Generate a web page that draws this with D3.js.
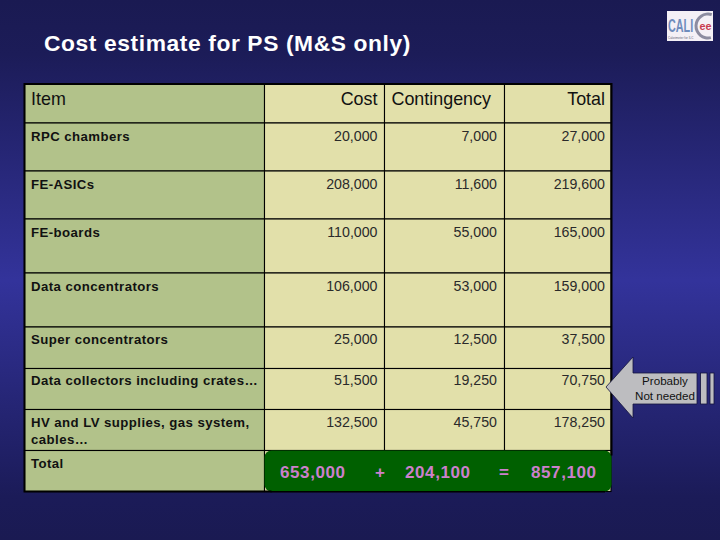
<!DOCTYPE html>
<html>
<head>
<meta charset="utf-8">
<style>
  html, body { margin: 0; padding: 0; background: #1b1b55; }
  svg { display: block; }
  text { font-family: "Liberation Sans", Arial, sans-serif; }
</style>
<script src="https://cdn.jsdelivr.net/npm/d3@7"></script>
</head>
<body>
<div id="slide"></div>
<script>
// table content
var titleText = "Cost estimate for PS (M&S only)";
var headers = ["Item", "Cost", "Contingency", "Total"];
var items = ["RPC chambers", "FE-ASICs", "FE-boards", "Data concentrators",
  "Super concentrators", "Data collectors including crates…",
  "HV and LV supplies, gas system,|cables…"];
var costs = [20000, 208000, 110000, 106000, 25000, 51500, 132500];
var contingency = [7000, 11600, 55000, 53000, 12500, 19250, 45750];
var totals = [27000, 219600, 165000, 159000, 37500, 70750, 178250];
var sumLabel = "Total";
var sums = [653000, 204100, 857100];
var noteLines = ["Probably", "Not needed"];

var width = 720, height = 540;
var fmt = d3.format(",");

var svg = d3.select("#slide").append("svg")
  .attr("width", width)
  .attr("height", height);

// background gradient, dark at top and bottom
var defs = svg.append("defs");
var bg = defs.append("linearGradient").attr("id", "bg")
  .attr("x1", 0).attr("y1", 0).attr("x2", 0).attr("y2", 1);
bg.append("stop").attr("offset", "0%").attr("stop-color", "#1a1a52");
bg.append("stop").attr("offset", "10%").attr("stop-color", "#1c1c58");
bg.append("stop").attr("offset", "52%").attr("stop-color", "#33339b");
bg.append("stop").attr("offset", "92%").attr("stop-color", "#1b1b58");
bg.append("stop").attr("offset", "100%").attr("stop-color", "#1a1a52");

svg.append("rect")
  .attr("width", width)
  .attr("height", height)
  .attr("fill", "url(#bg)");

svg.append("text")
  .attr("x", 44)
  .attr("y", 50.5)
  .attr("fill", "#fff")
  .attr("font-size", 22.8)
  .attr("font-weight", "bold")
  .attr("letter-spacing", 0.6)
  .text(titleText);

// rows and columns have uneven sizes so they are ordinal scales
var rowKeys = ["header"].concat(items, ["sum"]);
var rowEdges = [84, 123, 171, 219, 273, 327, 368.5, 409.5, 450.5, 491.5];
var y = d3.scaleOrdinal().domain(rowKeys).range(rowEdges.slice(0, -1));
var rowH = d3.scaleOrdinal().domain(rowKeys).range(d3.pairs(rowEdges).map(function(p) { return p[1] - p[0]; }));
// text baseline inside each item row
var rowBase = d3.scaleOrdinal().domain(items).range([17.5, 17.5, 17.5, 17.5, 16.5, 16, 17.5]);

var colEdges = [24.5, 264.5, 384.5, 504.5, 611];
var x = d3.scaleOrdinal().domain(headers).range(colEdges.slice(0, -1));
var colW = d3.scaleOrdinal().domain(headers).range(d3.pairs(colEdges).map(function(p) { return p[1] - p[0]; }));

var table = svg.append("g");

// cells
rowKeys.forEach(function(row) {
  headers.forEach(function(col) {
    table.append("rect")
      .attr("x", x(col))
      .attr("y", y(row))
      .attr("width", colW(col))
      .attr("height", rowH(row))
      .attr("fill", col == "Item" ? "#b2c28a" : "#e2e0aa")
      .attr("stroke", "#000")
      .attr("stroke-width", 1.1);
  });
});

// green total box sits over the last row
table.append("rect")
  .attr("x", x("Cost"))
  .attr("y", y("sum"))
  .attr("width", 611.5 - x("Cost"))
  .attr("height", rowH("sum"))
  .attr("rx", 7)
  .attr("fill", "#006000");

// heavy outer border, not over the green box corners
table.append("path")
  .attr("d", "M" + x("Cost") + "," + rowEdges[0] + "H24.5V491.5H" + (x("Cost") + 7))
  .attr("fill", "none")
  .attr("stroke", "#000")
  .attr("stroke-width", 2);
table.append("path")
  .attr("d", "M" + x("Cost") + "," + rowEdges[0] + "H611.5V" + (y("sum") + 5))
  .attr("fill", "none")
  .attr("stroke", "#000")
  .attr("stroke-width", 2);
table.append("path")
  .attr("d", "M" + (x("Cost") + 6) + ",491.7H605")
  .attr("stroke", "#000")
  .attr("stroke-width", 1.4);

// headers
var headerText = table.append("g")
  .attr("font-size", 17.9)
  .attr("fill", "#111");
headerText.append("text").attr("x", 31).attr("y", y("header") + 20.5).text(headers[0]);
headerText.append("text").attr("x", 377.5).attr("y", y("header") + 20.5)
  .attr("text-anchor", "end").text(headers[1]);
headerText.append("text").attr("x", 391.5).attr("y", y("header") + 20.5).text(headers[2]);
headerText.append("text").attr("x", 605).attr("y", y("header") + 20.5)
  .attr("text-anchor", "end").text(headers[3]);

// item labels
var labels = table.append("g")
  .attr("font-size", 13.2)
  .attr("font-weight", "bold")
  .attr("fill", "#111")
  .attr("letter-spacing", 0.44);
items.forEach(function(d) {
  d.split("|").forEach(function(line, i) {
    labels.append("text")
      .attr("x", 31)
      .attr("y", y(d) + rowBase(d) + i * 17)
      .text(line);
  });
});
labels.append("text")
  .attr("x", 31)
  .attr("y", y("sum") + 17)
  .text(sumLabel);

// numbers, right aligned in their column
var columns = [[headers[1], costs, 7], [headers[2], contingency, 7.5], [headers[3], totals, 6]];
columns.forEach(function(c) {
  table.append("g")
    .attr("font-size", 14.2)
    .attr("fill", "#2a2a2a")
    .selectAll("text")
    .data(c[1])
    .join("text")
      .attr("x", x(c[0]) + colW(c[0]) - c[2])
      .attr("y", function(d, i) { return y(items[i]) + rowBase(items[i]); })
      .attr("text-anchor", "end")
      .text(function(d) { return fmt(d); });
});

// totals line in the green box
var sumG = table.append("g")
  .attr("font-size", 17)
  .attr("font-weight", "bold")
  .attr("letter-spacing", 0.6)
  .attr("fill", "#cc80cc");
var sumX = [280, 405, 531];
sums.forEach(function(d, i) {
  sumG.append("text").attr("x", sumX[i]).attr("y", y("sum") + 27).text(fmt(d));
});
sumG.append("text").attr("x", 375).attr("y", y("sum") + 27).text("+");
sumG.append("text").attr("x", 499).attr("y", y("sum") + 27).text("=");

// arrow pointing at the data collectors row
var arrow = svg.append("g")
  .attr("fill", "#bdbdc0")
  .attr("stroke", "#14143c")
  .attr("stroke-width", 0.8);
arrow.append("path").attr("d", "M606,387L633,357V373H697V404H633V418Z");
arrow.append("rect").attr("x", 700.5).attr("y", 373).attr("width", 6.5).attr("height", 31);
arrow.append("rect").attr("x", 710).attr("y", 373).attr("width", 4).attr("height", 31);

svg.append("g")
  .attr("font-size", 11.6)
  .attr("fill", "#111")
  .attr("text-anchor", "middle")
  .selectAll("text")
  .data(noteLines)
  .join("text")
    .attr("x", 665)
    .attr("y", function(d, i) { return 385 + i * 15; })
    .text(function(d) { return d; });

// logo top right
var logo = svg.append("g");
logo.append("rect").attr("x", 667).attr("y", 11).attr("width", 46).attr("height", 30).attr("fill", "#f4f0f6");
logo.append("path")
  .attr("d", d3.arc()({innerRadius: 10.5, outerRadius: 13.5, startAngle: 2.9, endAngle: 6.6}))
  .attr("transform", "translate(708,26)")
  .attr("fill", "#8c8ca0");
logo.append("text")
  .attr("transform", "translate(668,32) scale(1,1.7)")
  .attr("font-size", 10.8).attr("font-weight", "bold")
  .attr("fill", "#6f8cbc")
  .text("CALI");
logo.append("text")
  .attr("x", 699.5).attr("y", 30)
  .attr("font-size", 10.8).attr("font-weight", "bold")
  .attr("fill", "#c83c50")
  .text("ee");
logo.append("text")
  .attr("x", 668).attr("y", 39)
  .attr("font-size", 3)
  .attr("fill", "#667")
  .text("Calorimeter for ILC");
</script>
</body>
</html>
